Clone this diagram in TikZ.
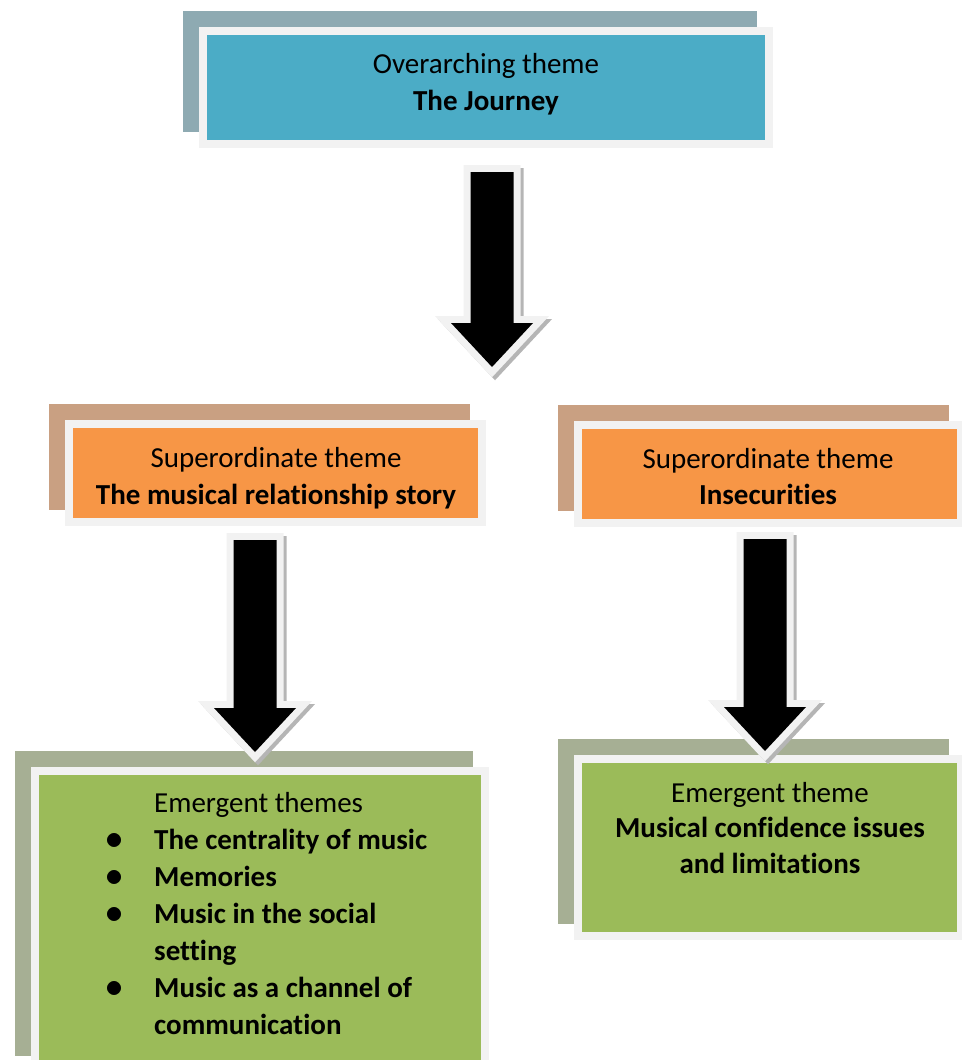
\documentclass[tikz,border=0pt]{standalone}
\usepackage{fontspec}
\usepackage{graphicx}
\setmainfont[Ligatures=NoCommon]{Carlito}
\usetikzlibrary{calc,backgrounds}

\definecolor{journeyblue}{HTML}{4BACC6}
\definecolor{journeyback}{HTML}{8EAAB2}
\definecolor{superorange}{HTML}{F79646}
\definecolor{superback}{HTML}{C9A082}
\definecolor{emergegreen}{HTML}{9BBB59}
\definecolor{emergeback}{HTML}{A6AF94}
\definecolor{framegray}{HTML}{F2F2F2}
\definecolor{shadowgray}{HTML}{B5B5B5}

\newcommand{\themebullet}{\scalebox{1.45}{$\bullet$}}

\tikzset{
  themebox/.style={draw=framegray, line width=8pt, inner sep=0pt, outer sep=0pt},
  arrowbody/.style={draw=framegray, line width=14pt,
    preaction={draw=shadowgray, fill=shadowgray, line width=14pt,
      transform canvas={shift={(3pt,-3pt)}}},
    postaction={fill=black, draw=none}},
  pics/themearrow/.style={code={
    \path[arrowbody] (-21.5,0) -- (21.5,0) -- (21.5,#1) -- (41,#1)
      -- (0,#1+44) -- (-41,#1) -- (-21.5,#1) -- cycle;
  }}
}

\begin{document}
\begin{tikzpicture}[x=1pt, y=-1pt, font=\fontsize{29pt}{36.5pt}\selectfont]
  \useasboundingbox (0,0) rectangle (961,1060);

  % boxes
  \node[themebox, fill=journeyblue, minimum width=566pt, minimum height=113pt] (journey) at (486,87.5) {};
  \node[themebox, fill=superorange, minimum width=413pt, minimum height=98pt] (story) at (275.5,473) {};
  \node[themebox, fill=superorange, minimum width=383pt, minimum height=98pt] (insecure) at (769.5,474) {};
  \node[themebox, fill=emergegreen, minimum width=450pt, minimum height=297pt] (themes) at (260,919.5) {};
  \node[themebox, fill=emergegreen, minimum width=383pt, minimum height=177pt] (confidence) at (769.5,847.5) {};

  \begin{scope}[on background layer]
    \foreach \b/\c in {journey/journeyback, story/superback, insecure/superback,
                       themes/emergeback, confidence/emergeback}
      \fill[\c] ($(\b.north west)+(-20,-20)$) rectangle ($(\b.south east)+(-12,-12)$);
  \end{scope}

  % texts
  \node[align=center] (journeyText) at (486,84) {Overarching theme\\\textbf{The Journey}};
  \node[align=center] (storyText) at (276,478) {Superordinate theme\\\textbf{The musical relationship story}};
  \node[align=center] (insecureText) at (768,476.5) {Superordinate theme\\\textbf{Insecurities}};
  \node[align=center, font=\fontsize{29pt}{35.5pt}\selectfont] (confidenceText) at (770,828) {Emergent theme\\\textbf{Musical confidence issues}\\\textbf{and limitations}};
  \node[anchor=north west, inner sep=0pt, font=\fontsize{29pt}{37pt}\selectfont] (themesText) at (105,786) {%
    \begin{tabular}{@{}p{49pt}@{}l@{}}
                   & Emergent themes\\
      \themebullet & \textbf{The centrality of music}\\
      \themebullet & \textbf{Memories}\\
      \themebullet & \textbf{Music in the social}\\
                   & \textbf{setting}\\
      \themebullet & \textbf{Music as a channel of}\\
                   & \textbf{communication}
    \end{tabular}};

  % arrows
  \coordinate (journeyOut) at (492,172);
  \coordinate (storyOut) at (255,540);
  \coordinate (insecureOut) at (765,539);
  \pic at (journeyOut) {themearrow=151};
  \pic at (storyOut) {themearrow=168};
  \pic at (insecureOut) {themearrow=168};
\end{tikzpicture}
\end{document}
